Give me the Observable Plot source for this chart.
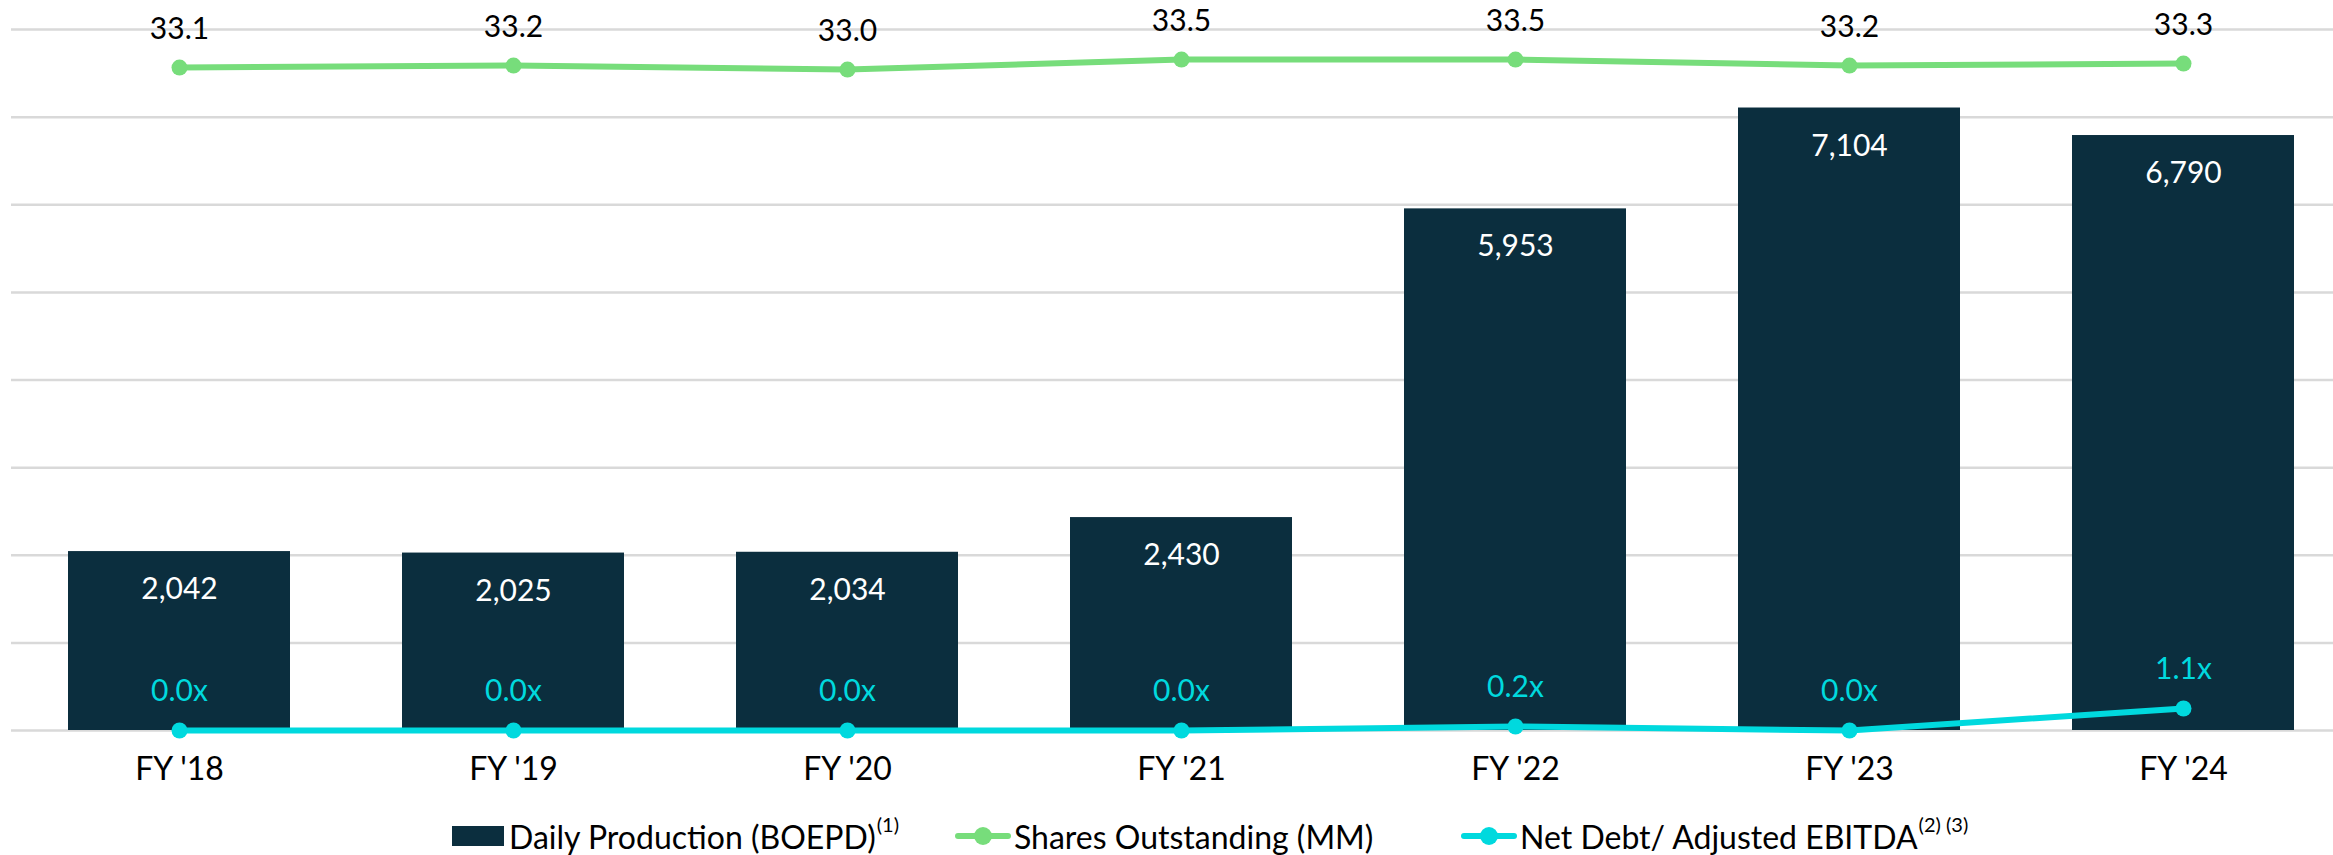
<!DOCTYPE html>
<html>
<head>
<meta charset="utf-8">
<script src="https://cdn.jsdelivr.net/npm/d3@7"></script>
<script src="https://cdn.jsdelivr.net/npm/@observablehq/plot@0.6"></script>
<style>
  html, body { margin: 0; padding: 0; background: #fff; }
  body { width: 2333px; height: 855px; overflow: hidden; font-family: Lato, "Open Sans", sans-serif; }
  #chart { position: absolute; left: 0; top: 0; }
  .legend { position: absolute; top: 811px; left: 0; width: 2333px; height: 50px; font-family: Lato, sans-serif; font-size: 32px; color: #000; }
  .item { position: absolute; top: 0; height: 50px; display: flex; align-items: center; white-space: nowrap; }
  .box { width: 52px; height: 20px; margin-right: 5px; }
  .mk { position: relative; width: 56px; height: 6px; margin-right: 3px; border-radius: 3px; }
  .mk::after { content: ""; position: absolute; left: 19px; top: -6px; width: 18px; height: 18px; border-radius: 50%; background: inherit; }
  sup { font-size: 20px; position: relative; top: -5px; margin-left: 1px; }
</style>
</head>
<body>
<div id="chart"></div>
<div class="legend">
  <div class="item" style="left:452px"><span class="box" style="background:#0b2e3e"></span><span>Daily Production (BOEPD)<sup>(1)</sup></span></div>
  <div class="item" style="left:955px"><span class="mk" style="background:#77dd7b"></span><span>Shares Outstanding (MM)</span></div>
  <div class="item" style="left:1461px"><span class="mk" style="background:#00d9de"></span><span>Net Debt/ Adjusted EBITDA<sup>(2) (3)</sup></span></div>
</div>
<script>
const categories = ["FY '18", "FY '19", "FY '20", "FY '21", "FY '22", "FY '23", "FY '24"];
const production = [2042, 2025, 2034, 2430, 5953, 7104, 6790];
const shares = [33.1, 33.2, 33.0, 33.5, 33.5, 33.2, 33.3];
const netDebt = [0.0, 0.0, 0.0, 0.0, 0.2, 0.0, 1.1];
const gridTicks = [0, 1000, 2000, 3000, 4000, 5000, 6000, 7000, 8000];

const primaryMax = 8000;
const secondaryMax = 35;
const toPrimary = v => v * primaryMax / secondaryMax;

const data = categories.map((c, i) => ({
  cat: c, production: production[i], shares: shares[i], netDebt: netDebt[i]
}));

const BAR = "#0b2e3e", GREEN = "#77dd7b", CYAN = "#00d9de";
const FONT = 30;

const chart = Plot.plot({
  width: 2333,
  height: 805,
  marginTop: 29,
  marginBottom: 75,
  marginLeft: 11,
  marginRight: 0,
  style: { fontFamily: "Lato, sans-serif", fontSize: FONT + "px", background: "transparent", overflow: "visible" },
  x: { domain: categories, range: [10.3, 2352], padding: 0, label: null },
  y: { domain: [0, primaryMax], axis: null },
  marks: [
    Plot.ruleY(gridTicks, { stroke: "#d9d9d9", strokeWidth: 2.5 }),
    Plot.barY(data, { x: "cat", y: "production", fill: BAR, insetLeft: 56, insetRight: 56 }),
    Plot.text(data, { x: "cat", y: "production", text: d => d3.format(",")(d.production), fill: "#fff", dy: 38, fontSize: FONT }),
    Plot.line(data, { x: "cat", y: d => toPrimary(d.shares), stroke: GREEN, strokeWidth: 6 }),
    Plot.dot(data, { x: "cat", y: d => toPrimary(d.shares), r: 8, fill: GREEN }),
    Plot.text(data, { x: "cat", y: d => toPrimary(d.shares), text: d => d.shares.toFixed(1), fill: "#000", dy: -38, fontSize: FONT }),
    Plot.line(data, { x: "cat", y: d => toPrimary(d.netDebt), stroke: CYAN, strokeWidth: 6 }),
    Plot.dot(data, { x: "cat", y: d => toPrimary(d.netDebt), r: 8, fill: CYAN }),
    Plot.text(data, { x: "cat", y: d => toPrimary(d.netDebt), text: d => d.netDebt.toFixed(1) + "x", fill: CYAN, dy: -39, fontSize: FONT }),
    Plot.axisX({ tickSize: 0, tickPadding: 27, fontSize: 32, fill: "#000", label: null })
  ]
});
document.getElementById("chart").appendChild(chart);
</script>
</body>
</html>
